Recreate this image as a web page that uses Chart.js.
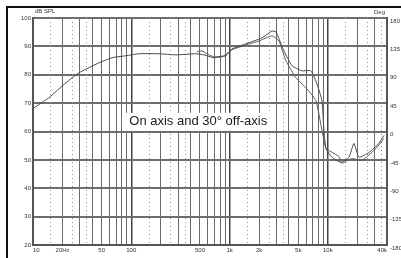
<!DOCTYPE html>
<html><head><meta charset="utf-8">
<script src="https://cdn.jsdelivr.net/npm/chart.js@4/dist/chart.umd.min.js"></script>
<style>html,body{margin:0;padding:0;background:#fff}#wrap{position:relative;width:401px;height:258px}</style>
</head><body><div id="wrap"><canvas id="c" width="401" height="258"></canvas></div>
<script>
// On-axis response (Hz, dB)
const freqOn = [10, 14.5, 21.7, 29.4, 46.9, 63.6, 88.3, 120, 191, 285, 455, 549, 694, 919, 1058, 1468, 2136, 2700, 2965, 3577, 4313, 5452, 6730, 7745, 8710, 9128, 9566, 11010, 13590, 16390, 18430, 20720, 26190, 33100, 37220];
const splOn  = [68.1, 71.9, 77.2, 80.7, 84.2, 86.0, 86.7, 87.4, 87.4, 87.0, 87.4, 87.0, 86.0, 86.7, 89.1, 90.9, 93.0, 95.4, 95.1, 88.4, 83.2, 81.4, 81.4, 76.8, 70.9, 60.4, 54.0, 50.9, 49.1, 50.9, 55.8, 50.9, 52.6, 55.8, 58.6];
// 30 degree off-axis response (Hz, dB)
const freqOff = [466, 524, 589, 694, 877, 1058, 1468, 1991, 2700, 3181, 3750, 4737, 5984, 7568, 8710, 9566, 10260, 12970, 13910, 17580, 22230, 30830, 37220];
const splOff  = [88.1, 88.4, 87.4, 86.3, 86.7, 88.8, 90.5, 91.9, 93.7, 91.9, 84.9, 78.9, 75.4, 70.9, 60.4, 54.0, 53.3, 51.2, 48.8, 50.5, 49.8, 54.0, 57.5];
// Axes
const xGridMult = [1,2,3,4,5,6,7,8,9];
const xMinorMult = [1.5, 2.5, 3.5];
const xLabelVals = [10, 20, 50, 100, 500, 1000, 2000, 5000, 10000, 40000];
const xLabelText = ['10', '20Hz', '50', '100', '500', '1k', '2k', '5k', '10k', '40k'];
const yTicks = [20, 30, 40, 50, 60, 70, 80, 90, 100];
const degTicks = [-180, -135, -90, -45, 0, 45, 90, 135, 180];
const annotation = 'On axis and 30\u00b0 off-axis';

const xGridVals = [];
for (let d = 10; d <= 10000; d *= 10) xGridMult.forEach(m => { const v = m * d; if (v <= 40000) xGridVals.push(v); });
const xMinorVals = [];
for (let d = 10; d <= 10000; d *= 10) xMinorMult.forEach(m => { const v = m * d; if (v < 40000) xMinorVals.push(v); });

const tickFont = {family: 'Liberation Sans', size: 6};

const extras = {
  id: 'extras',
  beforeDatasetsDraw(chart) {
    const {ctx, chartArea: a, scales: {x, y}} = chart;
    ctx.save();
    ctx.strokeStyle = '#909090';
    ctx.lineWidth = 1;
    ctx.setLineDash([1, 3]);
    xMinorVals.forEach(v => {
      const px = Math.round(x.getPixelForValue(v)) + 0.5;
      ctx.beginPath(); ctx.moveTo(px, a.top); ctx.lineTo(px, a.bottom); ctx.stroke();
    });
    ctx.setLineDash([]);
    // annotation box
    ctx.font = '13px "Liberation Sans", Arial, sans-serif';
    const w = ctx.measureText(annotation).width;
    const cx = x.getPixelForValue(480), cy = y.getPixelForValue(63.4);
    ctx.fillStyle = '#fff';
    ctx.fillRect(cx - w / 2 - 4, cy - 9, w + 8, 18);
    ctx.fillStyle = '#1a1a1a';
    ctx.textAlign = 'center'; ctx.textBaseline = 'middle';
    ctx.fillText(annotation, cx, cy);
    ctx.restore();
  },
  afterDraw(chart) {
    const {ctx, chartArea: a} = chart;
    ctx.save();
    ctx.fillStyle = '#111';
    ctx.fillRect(6, 6, 395, 2);
    ctx.fillRect(6, 6, 2, 252);
    ctx.font = '6px "Liberation Sans", Arial, sans-serif';
    ctx.fillStyle = '#333';
    ctx.textBaseline = 'alphabetic';
    ctx.textAlign = 'left';
    ctx.fillText('dB SPL', a.left + 2, 13);
    ctx.textAlign = 'right';
    ctx.fillText('Deg', a.right - 2, 14);
    ctx.restore();
  }
};

new Chart(document.getElementById('c'), {
  type: 'line',
  data: {
    datasets: [
      {label: 'On axis', data: freqOn.map((f, i) => ({x: f, y: splOn[i]})), borderColor: '#4a4a4a', borderWidth: 1, pointRadius: 0, tension: 0.15, fill: false},
      {label: '30° off-axis', data: freqOff.map((f, i) => ({x: f, y: splOff[i]})), borderColor: '#5a5a5a', borderWidth: 1, pointRadius: 0, tension: 0.15, fill: false}
    ]
  },
  options: {
    responsive: false, animation: false, devicePixelRatio: 1,
    layout: {padding: {top: 18, left: 0, right: 0, bottom: 0}},
    plugins: {legend: {display: false}, tooltip: {enabled: false}},
    scales: {
      x: {
        type: 'logarithmic', min: 10, max: 40000,
        afterBuildTicks: s => { s.ticks = xGridVals.map(v => ({value: v})); },
        afterFit: s => { s.height = 13; },
        ticks: {autoSkip: false, maxRotation: 0, minRotation: 0, padding: 2, align: 'inner', font: tickFont, color: '#333',
          callback: v => { const i = xLabelVals.indexOf(v); return i >= 0 ? xLabelText[i] : ''; }},
        grid: {drawTicks: false, color: c => ([10,100,1000,10000].includes(c.tick && c.tick.value) ? '#444' : '#6a6a6a'), lineWidth: c => ([10,100,1000,10000].includes(c.tick && c.tick.value) ? 1.5 : 1)},
        border: {display: true, color: '#555', width: 2}
      },
      y: {
        min: 20, max: 100,
        afterBuildTicks: s => { s.ticks = yTicks.map(v => ({value: v})); },
        afterFit: s => { s.width = 33; },
        ticks: {padding: 2, font: tickFont, color: '#333'},
        grid: {drawTicks: false, color: '#6e6e6e', lineWidth: 2},
        border: {display: true, color: '#555', width: 2}
      },
      y2: {
        position: 'right', min: -180, max: 180,
        afterBuildTicks: s => { s.ticks = degTicks.map(v => ({value: v})); },
        afterFit: s => { s.width = 14; },
        ticks: {padding: 3, font: tickFont, color: '#333', align: 'start'},
        grid: {drawOnChartArea: false, drawTicks: false},
        border: {display: true, color: '#555', width: 2}
      }
    }
  },
  plugins: [extras]
});
</script></body></html>
